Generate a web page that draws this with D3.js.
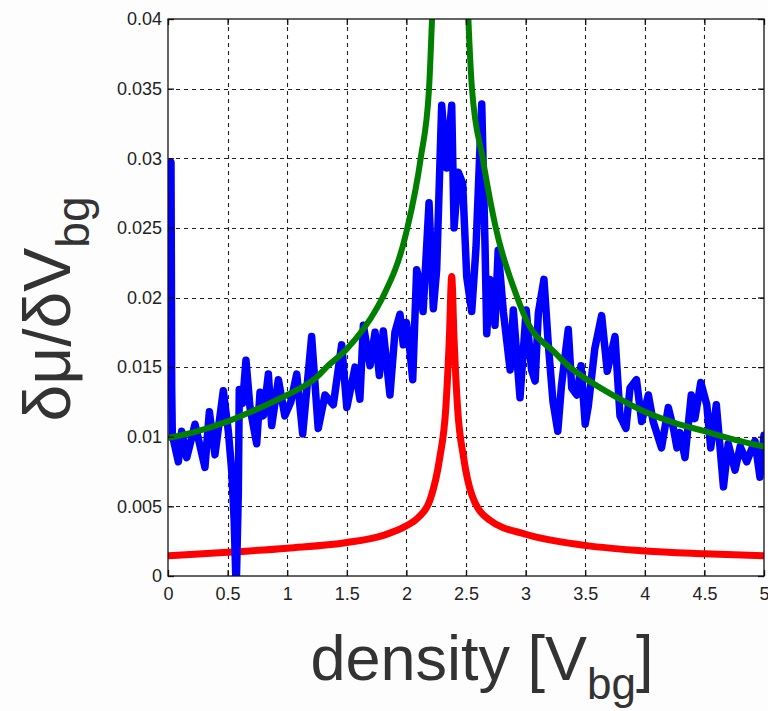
<!DOCTYPE html>
<html lang="en">
<head>
    <meta charset="UTF-8">
    <title>dmu/dVbg vs density</title>
    <style>
        html, body { margin: 0; padding: 0; background: #fdfdfe; }
        svg { display: block; }
        .axis-title { font-family: "Liberation Sans", Arial, sans-serif; fill: #333; }
    </style>
</head>
<body>
<div id="chart"></div>

<script src="https://d3js.org/d3.v7.min.js"></script>
<script>
    // x ticks / y ticks
    var xTicks = [0, 0.5, 1, 1.5, 2, 2.5, 3, 3.5, 4, 4.5, 5];
    var xTickLabels = ["0", "0.5", "1", "1.5", "2", "2.5", "3", "3.5", "4", "4.5", "5"];
    var yTicks = [0, 0.005, 0.01, 0.015, 0.02, 0.025, 0.03, 0.035, 0.04];
    var yTickLabels = ["0", "0.005", "0.01", "0.015", "0.02", "0.025", "0.03", "0.035", "0.04"];

    // measured (blue)
    var blueX = [0.025, 0.028, 0.031, 0.036, 0.045, 0.087, 0.115, 0.157, 0.227, 0.31, 0.347, 0.394, 0.464, 0.506, 0.534,
        0.555, 0.572, 0.59, 0.598, 0.626, 0.654, 0.688, 0.744, 0.772, 0.8, 0.842, 0.87, 0.926, 0.98, 1.03,
        1.08, 1.13, 1.205, 1.26, 1.317, 1.387, 1.457, 1.5, 1.569, 1.61, 1.639, 1.695, 1.737, 1.773, 1.806,
        1.862, 1.904, 1.946, 1.974, 2.0, 2.02, 2.053, 2.086, 2.1, 2.14, 2.19, 2.226, 2.254, 2.296, 2.338,
        2.38, 2.4, 2.435, 2.472, 2.506, 2.548, 2.584, 2.632, 2.66, 2.674, 2.7, 2.743, 2.77, 2.813, 2.87,
        2.897, 2.953, 3.005, 3.05, 3.08, 3.107, 3.154, 3.19, 3.23, 3.27, 3.3, 3.358, 3.387, 3.43, 3.465,
        3.5, 3.526, 3.58, 3.638, 3.685, 3.75, 3.792, 3.842, 3.876, 3.93, 3.974, 4.03, 4.07, 4.14, 4.197,
        4.24, 4.27, 4.295, 4.337, 4.39, 4.42, 4.47, 4.52, 4.553, 4.6, 4.66, 4.7, 4.757, 4.8, 4.855,
        4.924, 4.966, 5.0];
    var blueY = [0.0297, 0.0225, 0.0135, 0.0102, 0.0098, 0.0082, 0.0104, 0.0085, 0.0109, 0.0078, 0.0118, 0.0087, 0.0133, 0.0104, 0.0076,
        0.004, -0.001, 0.006, 0.0134, 0.0124, 0.0155, 0.0121, 0.0095, 0.0132, 0.0115, 0.0145, 0.0108, 0.0141, 0.0115, 0.0125,
        0.0145, 0.0102, 0.0172, 0.0106, 0.013, 0.0123, 0.0166, 0.0121, 0.015, 0.0127, 0.018, 0.0151, 0.0175, 0.0144, 0.0176,
        0.013, 0.0175, 0.0188, 0.0166, 0.0182, 0.017, 0.0141, 0.022, 0.0215, 0.019, 0.0268, 0.0192, 0.022, 0.0338, 0.0293,
        0.0338, 0.025, 0.029, 0.0282, 0.0215, 0.019, 0.0236, 0.0339, 0.0236, 0.0174, 0.0213, 0.018, 0.0234, 0.019, 0.0148,
        0.0191, 0.0128, 0.0191, 0.0148, 0.014, 0.0189, 0.0213, 0.0167, 0.0125, 0.0104, 0.0136, 0.0177, 0.0135, 0.013, 0.0151,
        0.0109, 0.0122, 0.0163, 0.0187, 0.0147, 0.0172, 0.0115, 0.0106, 0.0135, 0.0141, 0.0111, 0.013, 0.0111, 0.0092, 0.0121,
        0.0106, 0.0092, 0.0103, 0.0085, 0.013, 0.0113, 0.0139, 0.0123, 0.0092, 0.0123, 0.0064, 0.0095, 0.0076, 0.0093, 0.0082,
        0.0097, 0.0071, 0.0101];

    // model (green)
    var greenX = [0, 0.25, 0.5, 0.75, 1.0, 1.25, 1.33, 1.5, 1.75, 1.8, 2.0, 2.12, 2.19, 2.215, 2.26, 2.37,
        2.48, 2.52, 2.55, 2.64, 2.75, 2.93, 3.0, 3.25, 3.37, 3.5, 3.75, 4.0, 4.25, 4.5, 4.75, 5.0];
    var greenY = [0.0099, 0.0104, 0.0111, 0.012, 0.013, 0.0143, 0.015, 0.0163, 0.0192, 0.02, 0.0247, 0.03, 0.035, 0.04, 0.05, 0.08,
        0.05, 0.04, 0.035, 0.03, 0.025, 0.02, 0.0185, 0.016, 0.015, 0.0142, 0.0129, 0.0118, 0.011, 0.0104, 0.0098, 0.0093];

    // model (red)
    var redX = [0, 0.5, 1.0, 1.5, 1.8, 2.0, 2.1, 2.2, 2.28, 2.33, 2.36, 2.38, 2.40, 2.43, 2.48, 2.55, 2.7, 3.0, 3.5, 4.0, 4.5, 5.0];
    var redY = [0.00145, 0.0017, 0.002, 0.0024, 0.0029, 0.0036, 0.0042, 0.0055, 0.0085, 0.012, 0.017, 0.0215, 0.017, 0.012, 0.0085, 0.0058, 0.004, 0.003, 0.0022, 0.0018, 0.0016, 0.00145];

    var W = 768, H = 711;
    var mLeft = 168, mRight = 764, mTop = 19, mBottom = 576;

    var svg = d3.select("#chart").append("svg")
        .attr("width", W)
        .attr("height", H);

    var x = d3.scaleLinear().domain([0, 5]).range([mLeft, mRight]);
    var y = d3.scaleLinear().domain([0, 0.04]).range([mBottom, mTop]);

    svg.append("rect")
        .attr("x", mLeft).attr("y", mTop)
        .attr("width", mRight - mLeft).attr("height", mBottom - mTop)
        .attr("fill", "#fff");

    // grid
    var grid = svg.append("g").attr("stroke", "#222").attr("stroke-width", 1.1).attr("stroke-dasharray", "4,4");
    grid.selectAll(".vg").data(xTicks.slice(1, -1)).join("line")
        .attr("x1", d => Math.round(x(d)) + 0.5).attr("x2", d => Math.round(x(d)) + 0.5)
        .attr("y1", mTop).attr("y2", mBottom);
    grid.selectAll(".hg").data(yTicks.slice(1, -1)).join("line")
        .attr("y1", d => Math.round(y(d)) + 0.5).attr("y2", d => Math.round(y(d)) + 0.5)
        .attr("x1", mLeft).attr("x2", mRight);

    // data lines
    svg.append("clipPath").attr("id", "plotclip")
        .append("rect")
        .attr("x", mLeft).attr("y", mTop)
        .attr("width", mRight - mLeft).attr("height", mBottom - mTop);

    var plot = svg.append("g").attr("clip-path", "url(#plotclip)");

    var lineLin = d3.line().x(d => x(d[0])).y(d => y(d[1]));
    var lineSmooth = d3.line().x(d => x(d[0])).y(d => y(d[1])).curve(d3.curveMonotoneX);

    plot.append("path")
        .datum(d3.zip(redX, redY))
        .attr("d", lineSmooth)
        .attr("fill", "none").attr("stroke", "#ff0000")
        .attr("stroke-width", 7).attr("stroke-linejoin", "round");

    plot.append("path")
        .datum(d3.zip(blueX, blueY))
        .attr("d", lineLin)
        .attr("fill", "none").attr("stroke", "#0000ff")
        .attr("stroke-width", 7.5).attr("stroke-linejoin", "round").attr("stroke-linecap", "round");

    plot.append("path")
        .datum(d3.zip(greenX, greenY))
        .attr("d", lineSmooth)
        .attr("fill", "none").attr("stroke", "#007f00")
        .attr("stroke-width", 6).attr("stroke-linejoin", "round");

    // frame with inward ticks
    var axB = d3.axisBottom(x).tickValues(xTicks).tickSize(-6).tickFormat((d, i) => xTickLabels[i]).tickPadding(11);
    var axT = d3.axisTop(x).tickValues(xTicks).tickSize(-6).tickFormat("");
    var axL = d3.axisLeft(y).tickValues(yTicks).tickSize(-6).tickFormat((d, i) => yTickLabels[i]).tickPadding(6);
    var axR = d3.axisRight(y).tickValues(yTicks).tickSize(-6).tickFormat("");

    function styleAxis(g) {
        g.select(".domain").remove();
        g.attr("font-family", "'Liberation Sans', Arial, sans-serif").attr("font-size", 18);
        g.selectAll("line").attr("stroke", "#111").attr("stroke-width", 1.3);
        g.selectAll("text").attr("fill", "#222");
    }

    svg.append("g").attr("transform", `translate(0,${mBottom})`).call(axB).call(styleAxis);
    svg.append("g").attr("transform", `translate(0,${mTop})`).call(axT).call(styleAxis);
    svg.append("g").attr("transform", `translate(${mLeft},0)`).call(axL).call(styleAxis);
    svg.append("g").attr("transform", `translate(${mRight},0)`).call(axR).call(styleAxis);

    svg.append("rect")
        .attr("x", mLeft).attr("y", mTop)
        .attr("width", mRight - mLeft).attr("height", mBottom - mTop)
        .attr("fill", "none").attr("stroke", "#111").attr("stroke-width", 1.3);

    // axis titles
    var xt = svg.append("text").attr("class", "axis-title")
        .attr("x", 482).attr("y", 680)
        .attr("text-anchor", "middle")
        .attr("font-size", 63);
    xt.append("tspan").text("density [V");
    xt.append("tspan").attr("font-size", 44).attr("dy", 19).text("bg");
    xt.append("tspan").attr("dy", -19).text("]");

    var yt = svg.append("text").attr("class", "axis-title")
        .attr("transform", "translate(70,309) rotate(-90)")
        .attr("text-anchor", "middle")
        .attr("font-size", 66);
    yt.append("tspan").text("δμ/δV");
    yt.append("tspan").attr("font-size", 46).attr("dy", 19).text("bg");
</script>
</body>
</html>
